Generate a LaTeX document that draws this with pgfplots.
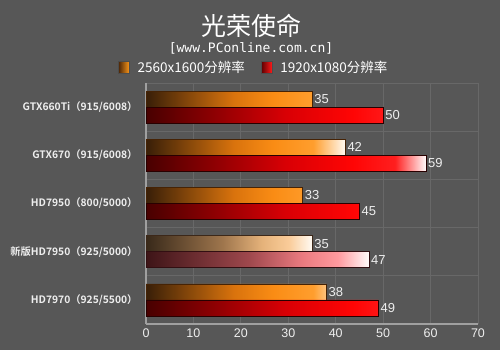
\documentclass[border=0pt]{standalone}
\usepackage{fontspec}
\usepackage{pgfplots}
\pgfplotsset{compat=1.18}
\setmainfont{Liberation Sans}
\newfontfamily\cjk{Noto Sans CJK SC}
\newfontfamily\cjkb{Noto Sans CJK SC Bold}
\newfontfamily\arial{Liberation Sans}
\newfontfamily\mono{DejaVu Sans Mono}
\definecolor{bg}{RGB}{87,87,87}
\definecolor{gridc}{RGB}{104,104,104}
\definecolor{axc}{RGB}{160,160,160}
\definecolor{lbl}{RGB}{238,238,238}
% shadings: path box maps to 25bp..75bp
\pgfdeclarehorizontalshading{orangebar}{100bp}{rgb(0bp)=(0.22,0.12,0.03); rgb(25bp)=(0.22,0.12,0.03); rgb(47bp)=(0.85,0.45,0.05); rgb(57bp)=(0.98,0.55,0.08); rgb(67bp)=(1,0.62,0.18); rgb(75bp)=(1,0.98,0.95); rgb(100bp)=(1,0.98,0.95)}
\pgfdeclarehorizontalshading{redbar}{100bp}{rgb(0bp)=(0.28,0.0,0.0); rgb(25bp)=(0.28,0.0,0.0); rgb(50bp)=(0.85,0.0,0.02); rgb(62bp)=(1,0.02,0.02); rgb(69.5bp)=(1,0.12,0.12); rgb(75bp)=(1,0.98,0.98); rgb(100bp)=(1,0.98,0.98)}
\pgfdeclarehorizontalshading{paleorange}{100bp}{rgb(0bp)=(0.22,0.16,0.1); rgb(25bp)=(0.22,0.16,0.1); rgb(48bp)=(0.62,0.46,0.3); rgb(60bp)=(0.9,0.7,0.48); rgb(68bp)=(0.98,0.8,0.6); rgb(75bp)=(1,0.98,0.95); rgb(100bp)=(1,0.98,0.95)}
\pgfdeclarehorizontalshading{palered}{100bp}{rgb(0bp)=(0.24,0.08,0.09); rgb(25bp)=(0.24,0.08,0.09); rgb(48bp)=(0.62,0.28,0.3); rgb(60bp)=(0.92,0.48,0.5); rgb(68bp)=(1,0.6,0.62); rgb(75bp)=(1,0.98,0.98); rgb(100bp)=(1,0.98,0.98)}
\begin{document}
\begin{tikzpicture}
\fill[bg] (0,0) rectangle (500bp,350bp);
\node[text=white, font={\cjk\fontsize{25bp}{30bp}\selectfont}] at (251bp,324bp) {光荣使命};
\node[text=white, font={\mono\fontsize{13bp}{15bp}\selectfont}] at (251bp,302bp) {[www.PConline.com.cn]};
\begin{axis}[
  at={(146bp,26bp)}, anchor=south west,
  scale only axis, width=332bp, height=241bp,
  xmin=0, xmax=70, ymin=-0.5, ymax=4.5,
  xtick={0,10,...,70},
  ytick={0,1,2,3,4},
  yticklabels={HD7970（925/5500）,新版HD7950（925/5000）,HD7950（800/5000）,GTX670（915/6008）,GTX660Ti（915/6008）},
  minor ytick={0.5,1.5,2.5,3.5,4.5},
  yminorgrids=true, xmajorgrids=true,
  grid style={draw=gridc, line width=0.8bp},
  minor grid style={draw=gridc, line width=0.8bp},
  major tick length=0pt, minor tick length=0pt,
  axis x line*=bottom, axis y line*=left,
  axis line style={draw=axc, line width=1.6bp, -},
  /pgf/number format/assume math mode=true,
  xticklabel style={font={\arial\fontsize{12.5bp}{14bp}\selectfont}, text=lbl, yshift=-1bp},
  yticklabel style={font={\cjkb\fontsize{10.3bp}{14bp}\selectfont}, text=lbl, xshift=-5bp},
  xbar, bar width=16bp,
  point meta=x,
  nodes near coords,
  nodes near coords style={font={\arial\fontsize{13bp}{14bp}\selectfont}, text=lbl, inner xsep=2bp},
  legend columns=2,
  legend style={at={(0.325,1.066)}, anchor=center, draw=none, fill=none,
    text=white, font={\cjk\fontsize{13.5bp}{15bp}\selectfont},
    /tikz/every odd column/.append style={column sep=6bp},
    /tikz/every even column/.append style={column sep=14bp},
    inner sep=0pt},
  legend cell align=left,
  clip=false,
]
\addlegendimage{legend image code/.code={\draw[draw=black!70, left color={rgb,1:red,0.3;green,0.15;blue,0.03}, right color={rgb,1:red,1;green,0.6;blue,0.1}] (0bp,-6bp) rectangle (11bp,6bp);}}
\addlegendimage{legend image code/.code={\draw[draw=black!70, left color={rgb,1:red,0.35;green,0;blue,0}, right color={rgb,1:red,1;green,0.1;blue,0.1}] (0bp,-6bp) rectangle (11bp,6bp);}}
\legend{2560x1600分辨率,1920x1080分辨率}
\addplot[bar shift=8bp, shading=orangebar, draw={rgb,255:red,70;green,35;blue,5}, line width=0.6bp] coordinates {(35,4) (42,3) (33,2) (38,0)};
\addplot[bar shift=8bp, shading=paleorange, draw={rgb,255:red,60;green,40;blue,25}, line width=0.6bp] coordinates {(35,1)};
\addplot[bar shift=-8bp, shading=redbar, draw={rgb,255:red,40;green,0;blue,0}, line width=0.6bp] coordinates {(50,4) (59,3) (45,2) (49,0)};
\addplot[bar shift=-8bp, shading=palered, draw={rgb,255:red,50;green,15;blue,18}, line width=0.6bp] coordinates {(47,1)};
\end{axis}
\end{tikzpicture}
\end{document}
